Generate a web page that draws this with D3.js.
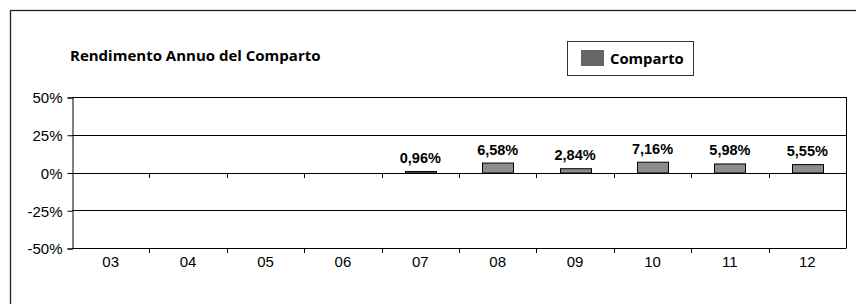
<!DOCTYPE html>
<html>
  <head>
    <meta charset="utf-8">
    <title>Rendimento Annuo del Comparto</title>
    <script src="https://cdn.jsdelivr.net/npm/d3@7"></script>
    <style>
      body { margin: 0; background: #fff; }
      text { font-family: "Liberation Sans", Arial, sans-serif; fill: #000; }
      .title, .legend-label { font-family: "Open Sans", "Noto Sans", sans-serif; font-weight: bold; }
    </style>
  </head>
  <body>
    <div id="grafica"></div>
    <script>
      // anni e rendimenti (%)
      var years = ["03", "04", "05", "06", "07", "08", "09", "10", "11", "12"];
      var values = [null, null, null, null, 0.96, 6.58, 2.84, 7.16, 5.98, 5.55];
      var yTicks = [-50, -25, 0, 25, 50];

      var width = 856, height = 304;
      var plot = {left: 72, right: 846, top: 97, bottom: 248};

      var svg = d3.select("#grafica").append("svg")
          .attr("width", width)
          .attr("height", height);

      // cornice esterna
      svg.append("rect")
          .attr("x", 10.5).attr("y", 10.5)
          .attr("width", 870).attr("height", 320)
          .attr("fill", "none")
          .attr("stroke", "#222")
          .attr("stroke-width", 1.3);

      var x = d3.scaleBand()
          .domain(years)
          .range([plot.left, plot.right]);

      var y = d3.scaleLinear()
          .domain([-50, 50])
          .range([plot.bottom, plot.top]);

      // griglia
      svg.append("g")
          .selectAll("line")
          .data(yTicks)
          .enter().append("line")
          .attr("x1", plot.left).attr("x2", plot.right)
          .attr("y1", function(d) { return Math.round(y(d)) + 0.5; })
          .attr("y2", function(d) { return Math.round(y(d)) + 0.5; })
          .attr("stroke", "#000");

      // bordo destro dell'area
      svg.append("line")
          .attr("x1", plot.right + 0.5).attr("x2", plot.right + 0.5)
          .attr("y1", y(50)).attr("y2", y(-50) + 0.5)
          .attr("stroke", "#000");

      // asse y
      var yAxis = d3.axisLeft(y)
          .tickValues(yTicks)
          .tickSize(5)
          .tickFormat(function(d) { return d + "%"; });

      var gy = svg.append("g")
          .attr("transform", "translate(" + (plot.left + 0.5) + ",0.5)")
          .call(yAxis);
      gy.select(".domain").attr("stroke", "#000");
      gy.selectAll("text")
          .attr("x", -10)
          .attr("dy", "0.35em")
          .style("font-size", "15px");

      // tacche sull'asse dello zero e in basso
      var bounds = years.slice(1).map(function(d) { return x(d); });
      [0, -50].forEach(function(v) {
        svg.append("g")
            .selectAll("line")
            .data(bounds)
            .enter().append("line")
            .attr("x1", function(d) { return Math.round(d) + 0.5; })
            .attr("x2", function(d) { return Math.round(d) + 0.5; })
            .attr("y1", Math.round(y(v)) + 0.5)
            .attr("y2", Math.round(y(v)) + 5)
            .attr("stroke", "#000");
      });

      // etichette categorie
      svg.append("g")
          .selectAll("text")
          .data(years)
          .enter().append("text")
          .attr("x", function(d) { return x(d) + x.bandwidth() / 2; })
          .attr("y", 267)
          .attr("text-anchor", "middle")
          .style("font-size", "15px")
          .text(function(d) { return d; });

      // barre
      var data = years.map(function(d, i) { return {year: d, value: values[i]}; })
          .filter(function(d) { return d.value != null; });
      var barW = 31;

      svg.append("g")
          .selectAll("rect")
          .data(data)
          .enter().append("rect")
          .attr("x", function(d) { return Math.round(x(d.year) + x.bandwidth() / 2 - barW / 2) + 0.5; })
          .attr("y", function(d) { return y(d.value) + 0.5; })
          .attr("width", barW)
          .attr("height", function(d) { return y(0) - y(d.value); })
          .attr("fill", "#8c8c8c")
          .attr("stroke", "#000")
          .attr("stroke-width", 1);

      svg.append("g")
          .selectAll("text")
          .data(data)
          .enter().append("text")
          .attr("x", function(d) { return x(d.year) + x.bandwidth() / 2; })
          .attr("y", function(d) { return y(d.value) - 8; })
          .attr("text-anchor", "middle")
          .style("font-size", "14.5px")
          .style("font-weight", "bold")
          .text(function(d) { return d.value.toFixed(2).replace(".", ",") + "%"; });

      // titolo
      svg.append("text")
          .attr("class", "title")
          .attr("x", 70)
          .attr("y", 61)
          .style("font-size", "15px")
          .text("Rendimento Annuo del Comparto");

      // legenda
      var lg = svg.append("g").attr("transform", "translate(567,41)");
      lg.append("rect")
          .attr("x", 0.5).attr("y", 0.5)
          .attr("width", 126).attr("height", 34)
          .attr("fill", "#fff")
          .attr("stroke", "#333");
      lg.append("rect")
          .attr("x", 14).attr("y", 9)
          .attr("width", 23).attr("height", 16)
          .attr("fill", "#666");
      lg.append("text")
          .attr("class", "legend-label")
          .attr("x", 43)
          .attr("y", 23)
          .style("font-size", "14.8px")
          .text("Comparto");
    </script>
  </body>
</html>
